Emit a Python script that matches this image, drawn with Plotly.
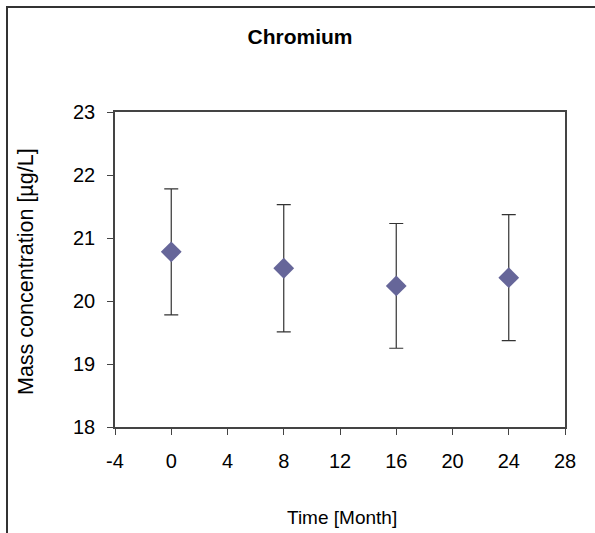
import plotly.graph_objects as go

months = [0, 8, 16, 24]
concentration = [20.78, 20.52, 20.24, 20.37]
uncertainty = [1.0, 1.01, 0.99, 1.0]
x_ticks = [-4, 0, 4, 8, 12, 16, 20, 24, 28]
y_ticks = [18, 19, 20, 21, 22, 23]

W, H = 595, 533
L, R, T, B = 115, 30, 112, 106
pw, ph = W - L - R, H - T - B

def px_x(p):
    return (p - L) / pw

def px_y(p):
    return (H - B - p) / ph

FONT = "Liberation Sans, Arial, sans-serif"

fig = go.Figure()
fig.add_trace(go.Scatter(
    x=months, y=concentration, mode="markers",
    marker=dict(symbol="diamond", size=16, color="#666699", line=dict(width=0)),
    error_y=dict(type="data", array=uncertainty, visible=True,
                 color="#333333", thickness=1.2, width=7),
    showlegend=False,
))

fig.update_layout(
    width=W, height=H,
    margin=dict(l=L, r=R, t=T, b=B),
    paper_bgcolor="white", plot_bgcolor="white",
    font=dict(family=FONT, size=20, color="black"),
    title=dict(text="<b>Chromium</b>", x=300 / W, y=1 - 37 / H,
               xanchor="center", yanchor="middle", xref="container",
               font=dict(family=FONT, size=21, color="black")),
    xaxis=dict(range=[-4, 28], tickvals=x_ticks, ticktext=[str(v) for v in x_ticks],
               showgrid=False, zeroline=False, showline=True, linecolor="#444444",
               linewidth=1.5, mirror=True, ticks="outside", ticklen=6,
               tickcolor="#444444", tickwidth=1, ticklabelstandoff=9,
               tickfont=dict(size=20, family=FONT, color="black")),
    yaxis=dict(range=[18, 23], tickvals=y_ticks, ticktext=[str(v) for v in y_ticks],
               showgrid=False, zeroline=False, showline=True, linecolor="#444444",
               linewidth=1.5, mirror=True, ticks="outside", ticklen=6,
               tickcolor="#444444", tickwidth=1, ticklabelstandoff=8,
               tickfont=dict(size=20, family=FONT, color="black")),
    annotations=[
        dict(text="Mass concentration [µg/L]", xref="paper", yref="paper",
             x=px_x(26), y=px_y(272), textangle=-90, showarrow=False,
             xanchor="center", yanchor="middle",
             font=dict(family=FONT, size=21.5, color="black")),
        dict(text="Time [Month]", xref="paper", yref="paper",
             x=px_x(342), y=px_y(517), showarrow=False,
             xanchor="center", yanchor="middle",
             font=dict(family=FONT, size=19, color="black")),
    ],
    shapes=[
        dict(type="rect", xref="paper", yref="paper",
             x0=px_x(7), x1=px_x(W + 20), y0=px_y(H + 20), y1=px_y(7),
             line=dict(color="#333333", width=2), fillcolor="rgba(0,0,0,0)",
             layer="above"),
    ],
)

fig.write_html(
    "out.html",
    config={"displayModeBar": False},
    post_script="document.body.style.margin='0';document.body.style.overflow='hidden';",
)
